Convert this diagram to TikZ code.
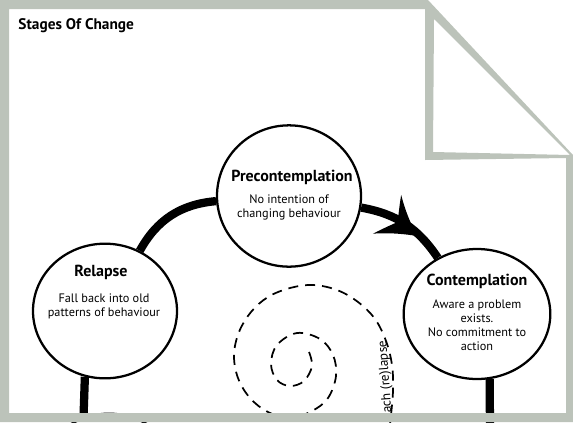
\documentclass[tikz,border=0pt]{standalone}
\usepackage{fontspec}
\setmainfont{PT Sans}
\usetikzlibrary{shapes.geometric,backgrounds}

\definecolor{pagegray}{RGB}{188,195,186}

\tikzset{every picture/.style={line width=0.75pt}}
\tikzset{
  stage/.style={draw, fill=white, ellipse, line width=1.7pt, inner sep=0pt},
  stagetitle/.style={font=\fontsize{12}{14}\selectfont\bfseries, inner sep=0.75pt},
  stagetext/.style={font=\fontsize{9.2}{10.5}\selectfont, align=center, inner sep=0.75pt},
  cycleline/.style={line width=6.2pt},
  spiral/.style={line width=1.3pt, dash pattern=on 7.5pt off 5.25pt}
}

\begin{document}
\begin{tikzpicture}[x=0.75pt,y=0.75pt,yscale=-1,xscale=1]
\useasboundingbox (0,0) rectangle (573,422);

%Shape: Ellipse
\node[stage, minimum width=108pt, minimum height=106pt] (precontemplation) at (289,196) {};
\node[stage, minimum width=108pt, minimum height=101pt] (relapse) at (105,311) {};
\node[stage, minimum width=110pt, minimum height=97.5pt] (contemplation) at (477,314) {};
\node[stage, minimum width=108pt, minimum height=104pt] (maintenance) at (109,483) {};
\coordinate (lowleft) at (83,432);
\coordinate (lowright) at (490,432);

%Curve Lines
\begin{scope}[on background layer]
\draw[cycleline] (relapse) to[bend right=28] (precontemplation);
\draw[cycleline] (precontemplation) to[bend right=23] (contemplation);
\draw[cycleline] (relapse.253) -- (lowleft);
\draw[cycleline] (contemplation.281) -- (lowright);
\end{scope}
\fill[shift={(417,236)}, rotate=36] (0,0) .. controls (-10,-5) and (-24,-13) .. (-37,-24) .. controls (-31,-12) and (-26,-4) .. (-24,0) .. controls (-26,4) and (-31,12) .. (-37,24) .. controls (-24,13) and (-10,5) .. (0,0) -- cycle;

%Curve Lines: spiral
\draw[spiral] plot[smooth, tension=0.6] coordinates {(309,352) (312,366) (304,381) (290,386) (277,380) (271,364) (277,345) (297,333) (320,339) (333,355) (336,376) (328,398) (312,411) (290,418) (268,412) (250,398) (238,378) (234,355) (239,332) (251,312) (268,297) (290,288) (313,285) (337,290) (358,302) (375,319) (386,341) (392,365) (393,390) (391,415) (388,440)};

\node[stagetext, font=\fontsize{10}{12}\selectfont, rotate=94, anchor=base west] (lapsetext) at (392,421) {each (re)lapse};

\node[stagetitle, font=\fontsize{11.5}{13}\selectfont\bfseries, anchor=base west] (heading) at (17,29) {Stages Of Change};
\node[stagetitle, anchor=base] (precontitle) at (292,181) {Precontemplation};
\node[stagetext, anchor=base] (precontext) at (289,217) {No intention of\\changing behaviour};
\node[stagetitle, anchor=base] (relapsetitle) at (101,276) {Relapse};
\node[stagetext, anchor=base] (relapsetext) at (104,316) {Fall back into old\\patterns of behaviour};
\node[stagetitle, anchor=base] (contitle) at (477,285) {Contemplation};
\node[stagetext, anchor=base] (context) at (477,350) {Aware a problem\\exists.\\No commitment to\\action};

%Shape: Page border
\fill[pagegray, even odd rule] (0,0) -- (428,0) -- (573,155) -- (573,422) -- (0,422) -- cycle
  (9,9) -- (425,9) -- (425,160) -- (566,158) -- (566,413) -- (9,413) -- cycle
  (434,19) -- (433,152) -- (570,155) -- cycle;

\end{tikzpicture}
\end{document}
